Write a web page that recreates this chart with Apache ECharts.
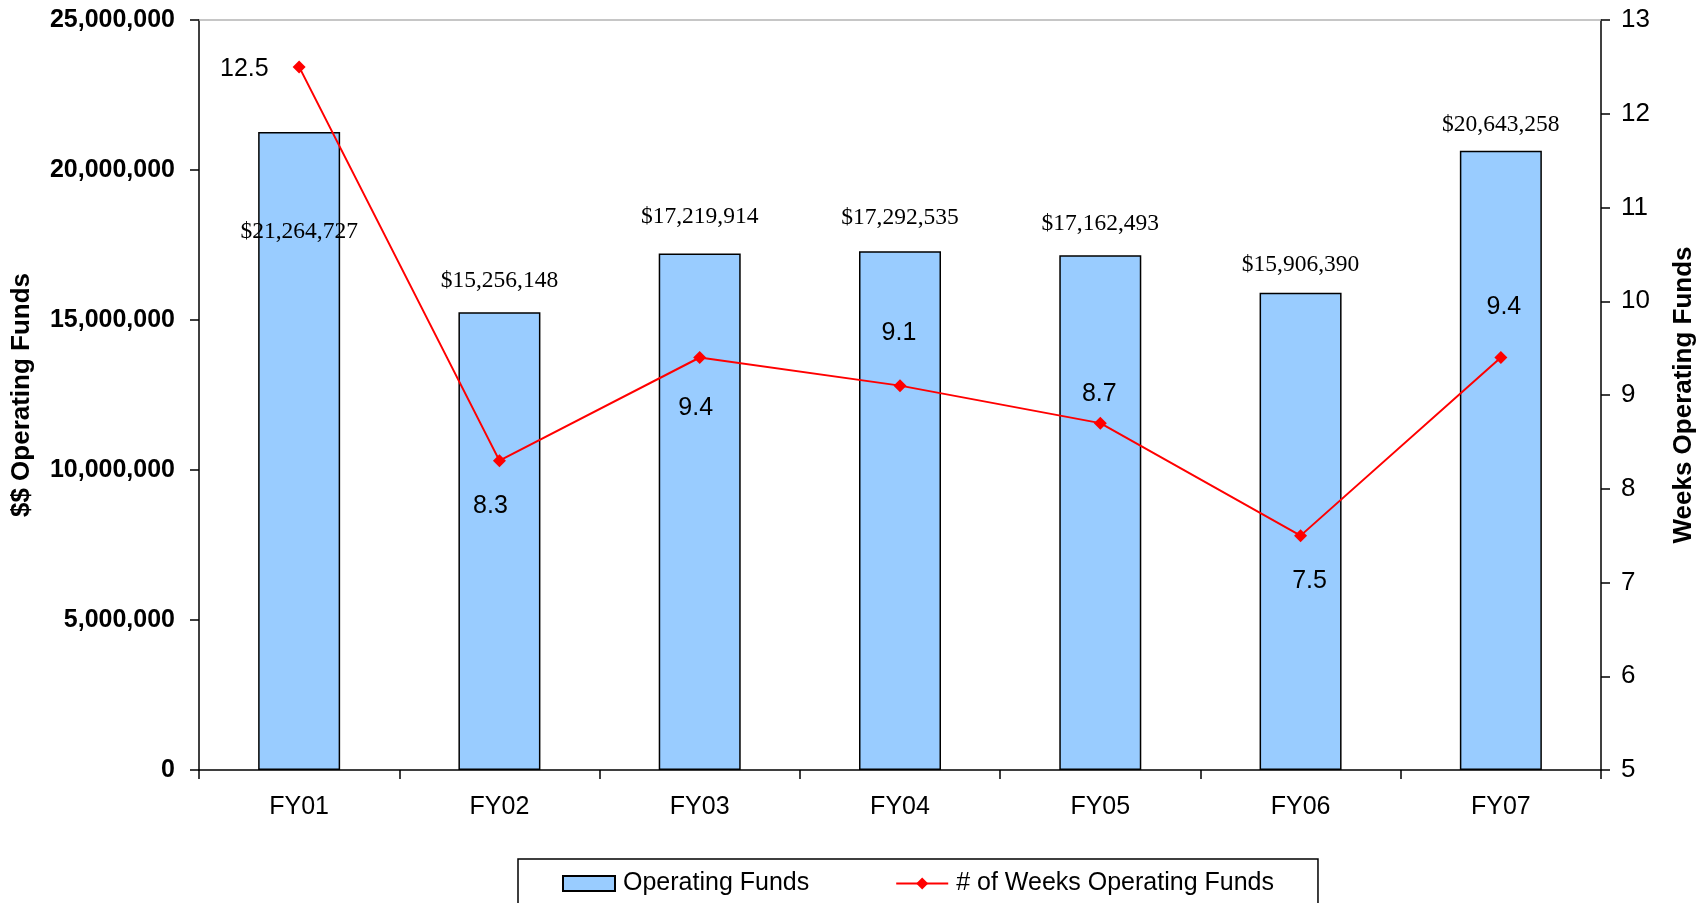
<!DOCTYPE html>
<html>
<head>
<meta charset="utf-8">
<title>Operating Funds</title>
<script src="https://cdn.jsdelivr.net/npm/echarts@6/dist/echarts.min.js"></script>
<style>
    html, body { margin: 0; padding: 0; background: #fff; }
    #chart { width: 1705px; height: 903px; }
</style>
</head>
<body>
<div id="chart"></div>
<script>
// data
var categories = ['FY01', 'FY02', 'FY03', 'FY04', 'FY05', 'FY06', 'FY07'];
var operatingFunds = [21264727, 15256148, 17219914, 17292535, 17162493, 15906390, 20643258];
var weeksOfFunds = [12.5, 8.3, 9.4, 9.1, 8.7, 7.5, 9.4];
var fundsTicks = [0, 5000000, 10000000, 15000000, 20000000, 25000000];
var weeksTicks = [5, 6, 7, 8, 9, 10, 11, 12, 13];

var sans = '"Liberation Sans", Arial, sans-serif';
var serif = '"Liberation Serif", "Times New Roman", serif';

// where each label sits (the source chart had them dragged around by hand)
var barLabelPlace = [
    {position: 'insideTop', distance: 88},
    {position: 'top', distance: 19},
    {position: 'top', distance: 25},
    {position: 'top', distance: 21},
    {position: 'top', distance: 19},
    {position: 'top', distance: 16},
    {position: 'top', distance: 14}
];
var weekLabelPlace = [
    {position: 'left', distance: 24, offset: [0, 2]},
    {position: 'bottom', distance: 26, offset: [-9, 0]},
    {position: 'bottom', distance: 32, offset: [-4, 0]},
    {position: 'top', distance: 34, offset: [-1, 0]},
    {position: 'top', distance: 10, offset: [-1, 0]},
    {position: 'bottom', distance: 26, offset: [9, 0]},
    {position: 'top', distance: 31, offset: [3, 0]}
];

var barData = operatingFunds.map(function (v, i) {
    return {value: v, label: barLabelPlace[i]};
});
var lineData = weeksOfFunds.map(function (v, i) {
    return {value: v, label: weekLabelPlace[i]};
});

var axisLine = {show: true, lineStyle: {color: '#000', width: 1.5}};
var axisTick = {show: true, length: 9, lineStyle: {color: '#000', width: 1.5}};

var myChart = echarts.init(document.getElementById('chart'));
myChart.setOption({
    backgroundColor: '#fff',
    animation: false,
    grid: {left: 199, right: 99, top: 20, bottom: 133},
    legend: {
        left: 518,
        top: 859,
        orient: 'horizontal',
        padding: [12, 44, 40, 44],
        itemGap: 86,
        itemWidth: 52,
        itemHeight: 15,
        borderColor: '#000',
        borderWidth: 1.5,
        textStyle: {fontFamily: sans, fontSize: 25, color: '#000', padding: [0, 0, 0, 3]},
        data: [{name: 'Operating Funds', icon: 'rect'}, {name: '# of Weeks Operating Funds'}]
    },
    xAxis: [{
        type: 'category',
        data: categories,
        axisLine: axisLine,
        axisTick: axisTick,
        axisLabel: {fontFamily: sans, fontSize: 25, color: '#000', margin: 25}
    }, {
        // thin grey frame line along the top of the plot
        type: 'category',
        position: 'top',
        data: categories,
        axisLine: {show: true, lineStyle: {color: '#b4b4b4', width: 1.5}},
        axisTick: {show: false},
        axisLabel: {show: false}
    }],
    yAxis: [{
        type: 'value',
        min: fundsTicks[0],
        max: fundsTicks[fundsTicks.length - 1],
        interval: fundsTicks[1] - fundsTicks[0],
        name: '$$ Operating Funds',
        nameLocation: 'middle',
        nameRotate: 90,
        nameGap: 164,
        nameTextStyle: {fontFamily: sans, fontSize: 26, fontWeight: 'bold', color: '#000'},
        axisLine: axisLine,
        axisTick: axisTick,
        splitLine: {show: false},
        axisLabel: {
            fontFamily: sans, fontSize: 25, fontWeight: 'bold', color: '#000', margin: 24,
            formatter: function (v) { return v.toLocaleString('en-US'); }
        }
    }, {
        type: 'value',
        position: 'right',
        min: weeksTicks[0],
        max: weeksTicks[weeksTicks.length - 1],
        interval: weeksTicks[1] - weeksTicks[0],
        name: 'Weeks Operating Funds',
        nameLocation: 'middle',
        nameRotate: 90,
        nameGap: 70,
        nameTextStyle: {fontFamily: sans, fontSize: 26, fontWeight: 'bold', color: '#000'},
        axisLine: axisLine,
        axisTick: axisTick,
        splitLine: {show: false},
        axisLabel: {fontFamily: sans, fontSize: 26, color: '#000', margin: 20}
    }],
    series: [{
        name: 'Operating Funds',
        type: 'bar',
        data: barData,
        barWidth: 82,
        itemStyle: {color: '#99CCFF', borderColor: '#000', borderWidth: 1.5},
        label: {
            show: true,
            fontFamily: serif,
            fontSize: 23.5,
            color: '#000',
            formatter: function (p) { return '$' + p.value.toLocaleString('en-US'); }
        },
        z: 2
    }, {
        name: '# of Weeks Operating Funds',
        type: 'line',
        yAxisIndex: 1,
        data: lineData,
        symbol: 'diamond',
        symbolSize: 13,
        lineStyle: {color: '#FF0000', width: 2},
        itemStyle: {color: '#FF0000'},
        label: {show: true, fontFamily: sans, fontSize: 25, color: '#000'},
        z: 3
    }]
});
</script>
</body>
</html>
